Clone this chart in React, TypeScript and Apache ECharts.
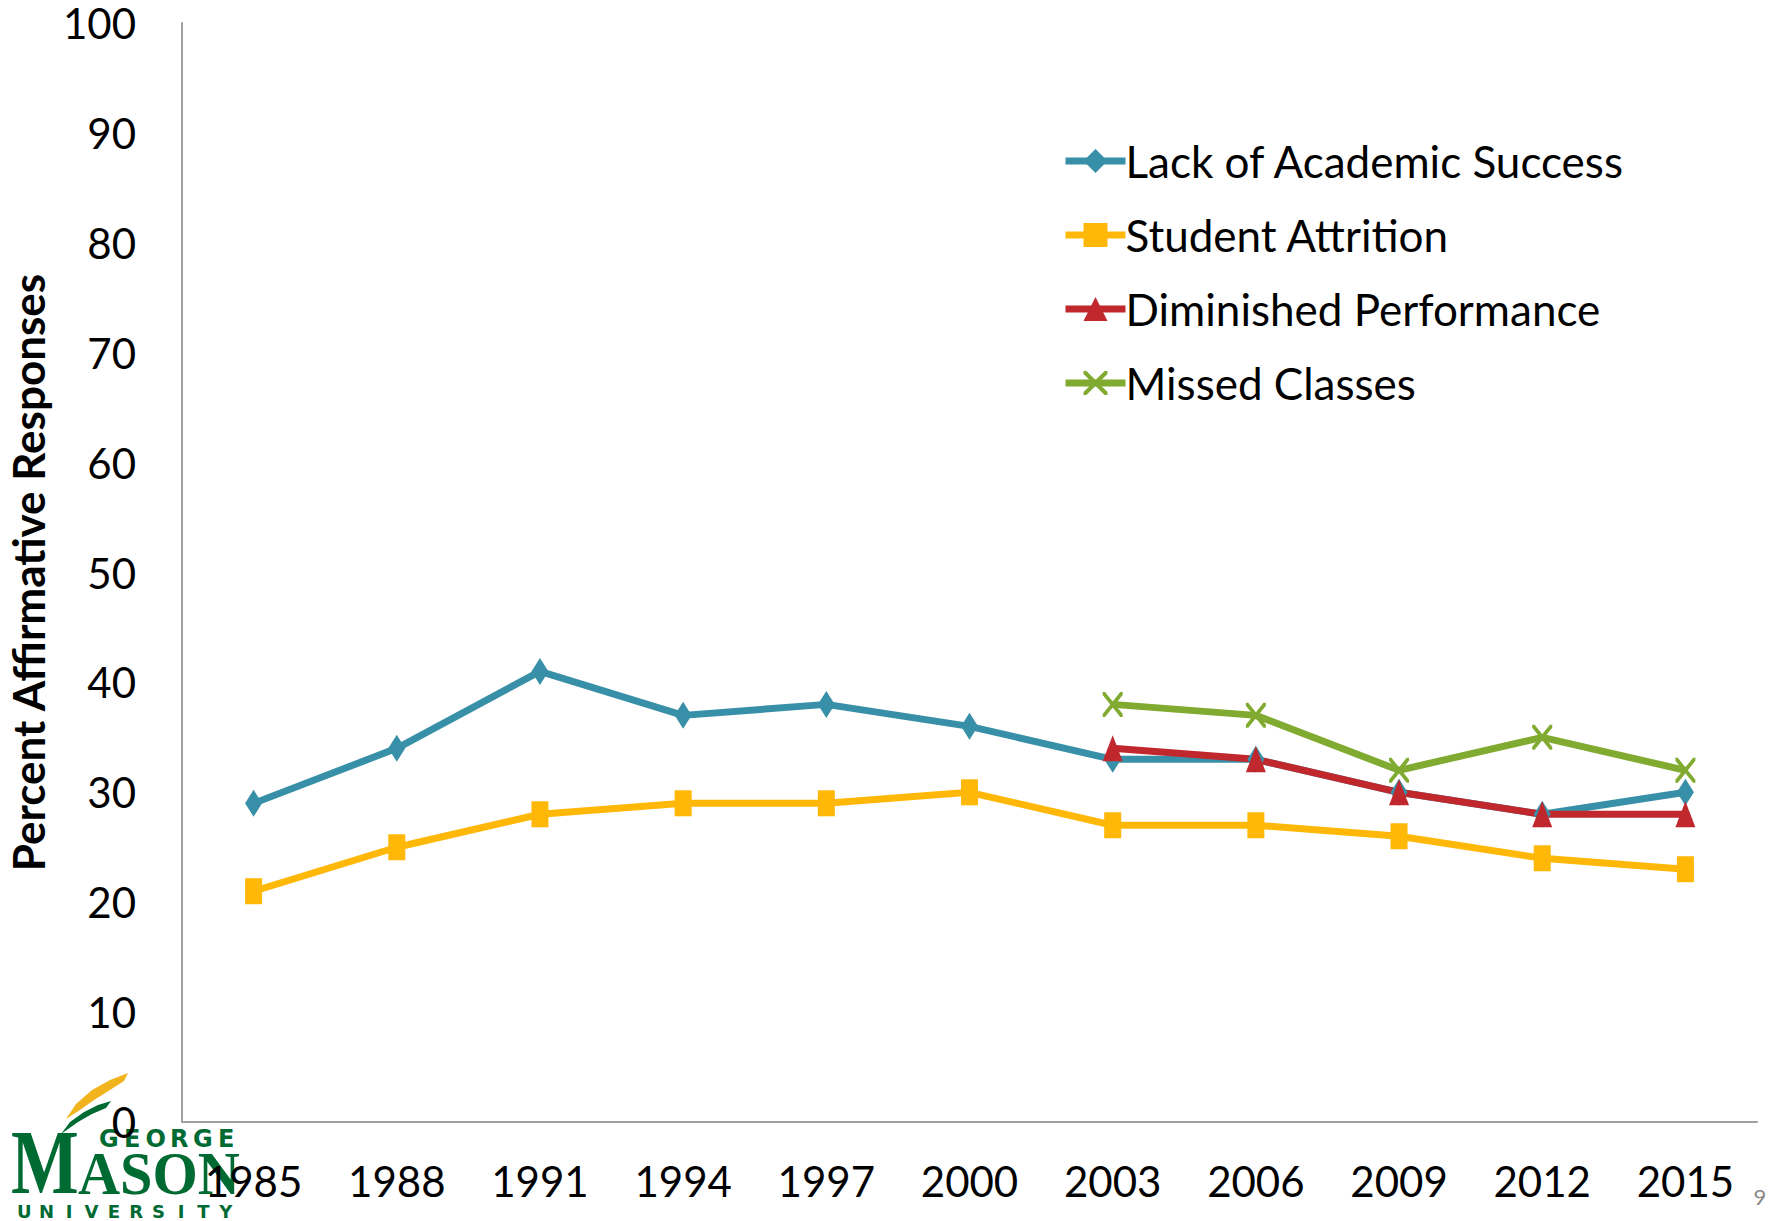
import React, { useEffect, useRef } from "react";
import * as echarts from "echarts";

const years = ["1985", "1988", "1991", "1994", "1997", "2000", "2003", "2006", "2009", "2012", "2015"];
const lackOfAcademicSuccess = [29, 34, 41, 37, 38, 36, 33, 33, 30, 28, 30];
const studentAttrition = [21, 25, 28, 29, 29, 30, 27, 27, 26, 24, 23];
const diminishedPerformance = [null, null, null, null, null, null, 34, 33, 30, 28, 28];
const missedClasses = [null, null, null, null, null, null, 38, 37, 32, 35, 32];
const seriesNames = ["Lack of Academic Success", "Student Attrition", "Diminished Performance", "Missed Classes"];
const colors = ["#3890A8", "#FFB808", "#C0282D", "#80AA30"];

const FONT = "Lato, 'Noto Sans', sans-serif";
const X_SYMBOL = "path://M0,0 L1.2,0 L10,8.8 L10,10 L8.8,10 L0,1.2 Z M8.8,0 L10,0 L10,1.2 L1.2,10 L0,10 L0,8.8 Z";

export default function App() {
  const ref = useRef<HTMLDivElement>(null);
  useEffect(() => {
    if (!ref.current) return;
    const chart = echarts.init(ref.current, null, { renderer: "svg" });
    const gmuGreen = "#006A33";
    const gmuGold = "#F2B41E";
    const univLetters = "UNIVERSITY".split("").map((ch, i) => ({
      type: "text",
      z: -10,
      style: {
        text: ch,
        x: 13 + (224 / 10) * (i + 0.5),
        y: 1211,
        align: "center",
        verticalAlign: "middle",
        font: "bold 18px 'DejaVu Sans', sans-serif",
        fill: gmuGreen,
      },
    }));
    const georgeLetters = "GEORGE".split("").map((ch, i) => ({
      type: "text",
      z: -10,
      style: {
        text: ch,
        x: 97 + (141 / 6) * (i + 0.5),
        y: 1139,
        align: "center",
        verticalAlign: "middle",
        font: "bold 24px 'DejaVu Sans', sans-serif",
        fill: gmuGreen,
      },
    }));
    const mkSeries = (name: string, data: (number | null)[], color: string, symbol: string, size: number[]) => ({
      name,
      type: "line",
      data,
      connectNulls: false,
      symbol,
      symbolSize: size,
      symbolKeepAspect: false,
      lineStyle: { color, width: 7 },
      itemStyle: { color },
      z: 2,
    });
    chart.setOption({
      animation: false,
      backgroundColor: "#ffffff",
      textStyle: { fontFamily: FONT },
      grid: { left: 182, right: 26, top: 23, bottom: 99, containLabel: false, outerBoundsMode: "none" },
      legend: {
        orient: "vertical",
        left: 1057,
        top: 134,
        itemWidth: 60,
        itemHeight: 30,
        itemGap: 30,
        data: seriesNames,
        lineStyle: { width: 7 },
        textStyle: { fontFamily: FONT, fontSize: 44, color: "#000", padding: [0, 0, 0, -5], lineHeight: 44 },
      },
      xAxis: {
        type: "category",
        data: years,
        boundaryGap: true,
        axisLine: { show: true, lineStyle: { color: "#A0A0A0", width: 2 } },
        axisTick: { show: false },
        axisLabel: { margin: 38, fontSize: 42, color: "#000", fontFamily: FONT },
        splitLine: { show: false },
      },
      yAxis: {
        type: "value",
        min: 0,
        max: 100,
        interval: 10,
        name: "Percent Affirmative Responses",
        nameLocation: "middle",
        nameGap: 132,
        nameTextStyle: { fontSize: 44, fontWeight: "bold", color: "#000", fontFamily: FONT },
        axisLine: { show: true, lineStyle: { color: "#A0A0A0", width: 2 } },
        axisTick: { show: false },
        axisLabel: { margin: 46, fontSize: 42, lineHeight: 40, color: "#000", fontFamily: FONT },
        splitLine: { show: false },
      },
      series: [
        mkSeries(seriesNames[0], lackOfAcademicSuccess, colors[0], "diamond", [17, 27]),
        mkSeries(seriesNames[1], studentAttrition, colors[1], "rect", [17, 26]),
        mkSeries(seriesNames[2], diminishedPerformance, colors[2], "triangle", [20, 26]),
        mkSeries(seriesNames[3], missedClasses, colors[3], X_SYMBOL, [20, 25]),
      ],
      graphic: [
        {
          type: "polygon",
          z: -10,
          shape: { points: [[66, 1119], [76, 1104], [92, 1090], [110, 1080], [128, 1073], [124, 1081], [110, 1090], [94, 1100], [80, 1110]] },
          style: { fill: gmuGold },
        },
        {
          type: "polygon",
          z: -10,
          shape: { points: [[61, 1134], [70, 1122], [84, 1112], [98, 1105], [111, 1101], [106, 1108], [92, 1114], [78, 1122]] },
          style: { fill: gmuGreen },
        },
        {
          type: "text",
          z: -10,
          style: {
            text: "M",
            x: 45,
            y: 1162,
            align: "center",
            verticalAlign: "middle",
            font: "bold 92px 'Liberation Serif', serif",
            fill: gmuGreen,
          },
          scaleX: 0.78,
          originX: 45,
          originY: 1162,
        },
        {
          type: "text",
          z: -10,
          style: {
            text: "ASON",
            x: 78,
            y: 1173,
            align: "left",
            verticalAlign: "middle",
            font: "bold 62px 'Liberation Serif', serif",
            fill: gmuGreen,
          },
          scaleX: 0.94,
          originX: 78,
          originY: 1173,
        },
        ...georgeLetters,
        ...univLetters,
        {
          type: "text",
          style: {
            text: "9",
            x: 1760,
            y: 1196,
            align: "center",
            verticalAlign: "middle",
            font: "22px Lato, sans-serif",
            fill: "#898989",
          },
        },
      ],
    });
    return () => chart.dispose();
  }, []);
  return <div ref={ref} style={{ width: 1783, height: 1221, position: "absolute", left: 0, top: 0 }} />;
}
